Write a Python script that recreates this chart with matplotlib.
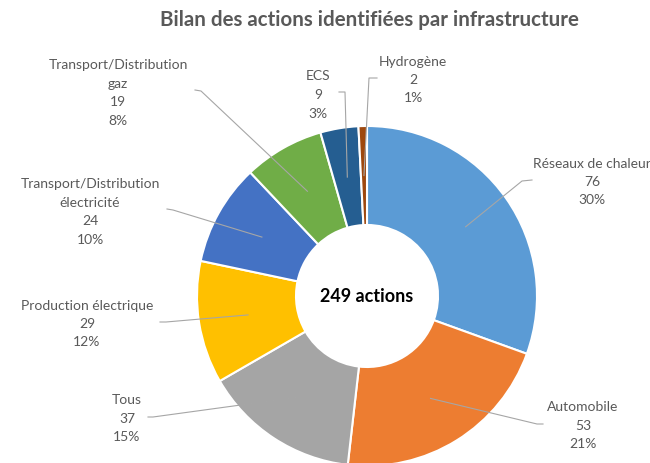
import numpy as np
import matplotlib.pyplot as plt

plt.rcParams['font.family'] = ['Lato', 'DejaVu Sans']

categories = ["Réseaux de chaleur", "Automobile", "Tous", "Production électrique",
              "Transport/Distribution\nélectricité", "Transport/Distribution\ngaz",
              "ECS", "Hydrogène"]
values = [76, 53, 37, 29, 24, 19, 9, 2]
percents = [30, 21, 15, 12, 10, 8, 3, 1]
colors = ["#5B9BD5", "#ED7D31", "#A5A5A5", "#FFC000",
          "#4472C4", "#70AD47", "#255E91", "#9E480E"]

# label layout in pixels (x, y of block centre), leader attach + elbow
label_pos = [(592, 182), (583, 426), (127, 419), (87, 324),
             (90, 212), (118, 93), (318, 95), (413, 80)]
leader_attach = [(532, 181), (543, 425), (148, 418), (160, 323),
                 (167, 210), (195, 91), (339, 93), (377, 79)]
leader_elbow = [(522, 182), (537, 425), (153, 418), (166, 323),
                (173, 211), (201, 92), (345, 93), (369, 79)]

W, H = 650, 464
cx, cy = 367, 297
r_out, r_in = 170, 71


def fy(py):
    return H - py


fig = plt.figure(figsize=(6.5, 4.64), dpi=100)
ax = fig.add_axes([0, 0, 1, 1])

wedges, _ = ax.pie(values, colors=colors, startangle=90, counterclock=False,
                   center=(cx, fy(cy)), radius=r_out,
                   wedgeprops=dict(width=r_out - r_in, edgecolor="white", linewidth=1.5))

total = sum(values)
start = 90.0
for i, v in enumerate(values):
    mid = np.deg2rad(start - v / total * 360 / 2)
    start -= v / total * 360
    rm = (r_out + r_in) / 2
    mx, my = cx + rm * np.cos(mid), fy(cy) + rm * np.sin(mid)
    ax.plot([leader_attach[i][0], leader_elbow[i][0], mx],
            [fy(leader_attach[i][1]), fy(leader_elbow[i][1]), my],
            color="#A6A6A6", lw=0.8, zorder=3)
    txt = f"{categories[i]}\n{v}\n{percents[i]}%"
    ax.text(label_pos[i][0], fy(label_pos[i][1]), txt, ha="center", va="center",
            fontsize=10, color="#595959", linespacing=1.65)

ax.text(cx, fy(cy), f"{total} actions", ha="center", va="center",
        fontsize=13, fontweight="bold", color="black")

ax.text(369, fy(20), "Bilan des actions identifiées par infrastructure",
        ha="center", va="center", fontsize=14.8, fontweight="bold", color="#595959")

ax.set_xlim(0, W)
ax.set_ylim(0, H)
ax.set_aspect("auto")
ax.axis("off")

plt.savefig("out.png", dpi=100)
